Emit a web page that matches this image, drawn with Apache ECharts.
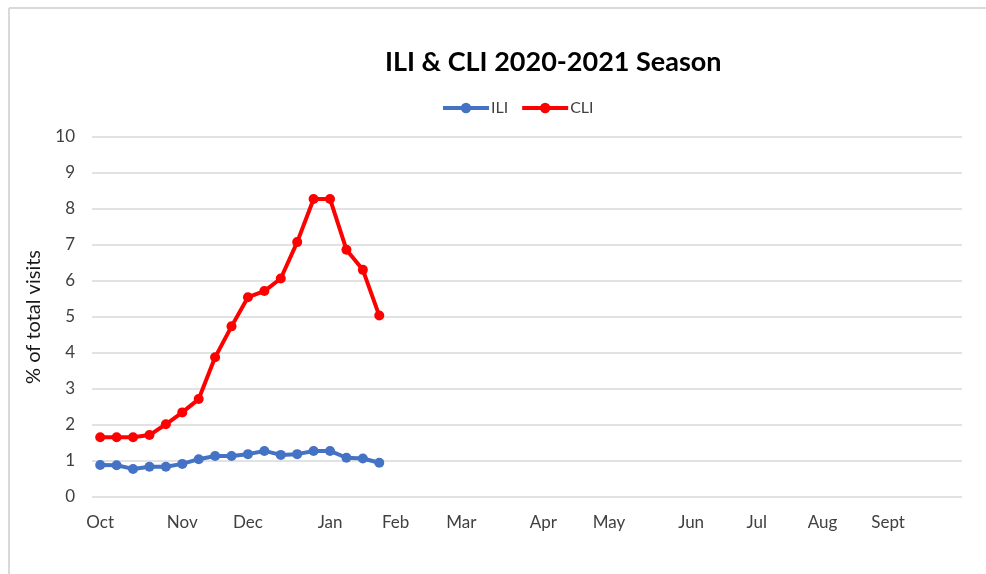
<!DOCTYPE html>
<html>
<head>
<meta charset="utf-8">
<script src="https://cdn.jsdelivr.net/npm/echarts@6/dist/echarts.min.js"></script>
<style>
html,body{margin:0;padding:0;background:#fff;}
#chart{width:986px;height:574px;}
</style>
</head>
<body>
<div id="chart"></div>
<script>
var monthLabels = ['Oct','Nov','Dec','Jan','Feb','Mar','Apr','May','Jun','Jul','Aug','Sept'];
var monthWeeks  = [0, 5, 9, 14, 18, 22, 27, 31, 36, 40, 44, 48];
var weekCount = 53;
var iliValues = [0.89, 0.88, 0.78, 0.84, 0.84, 0.92, 1.05, 1.14, 1.14, 1.19, 1.28, 1.17, 1.19, 1.28, 1.28, 1.09, 1.07, 0.95];
var cliValues = [1.66, 1.66, 1.66, 1.72, 2.02, 2.35, 2.72, 3.88, 4.74, 5.55, 5.72, 6.07, 7.08, 8.28, 8.28, 6.87, 6.31, 5.04];
var yTicks = [0,1,2,3,4,5,6,7,8,9,10];

var categories = [];
for (var i = 0; i < weekCount; i++) {
  var idx = monthWeeks.indexOf(i);
  categories.push(idx >= 0 ? monthLabels[idx] : '');
}

var chart = echarts.init(document.getElementById('chart'));
var font = 'Lato, "Open Sans", sans-serif';
chart.setOption({
  animation: false,
  textStyle: { fontFamily: font },
  title: {
    text: 'ILI & CLI 2020-2021 Season',
    left: 380, top: 44,
    textStyle: { fontFamily: font, fontWeight: 'bold', fontSize: 27, color: '#000' }
  },
  legend: {
    top: 95, left: 436,
    itemWidth: 46, itemHeight: 13, itemGap: 12,
    lineStyle: { width: 4 },
    textStyle: { fontFamily: font, fontSize: 16, color: '#404040', padding: [0, 0, 0, -3] },
    data: ['ILI', 'CLI']
  },
  graphic: [
    { type: 'line', shape: { x1: 9, y1: 8, x2: 986, y2: 8 }, style: { stroke: '#d9d9d9', lineWidth: 2 } },
    { type: 'line', shape: { x1: 9, y1: 8, x2: 9, y2: 574 }, style: { stroke: '#d9d9d9', lineWidth: 2 } }
  ],
  grid: { left: 92, right: 24, top: 137, bottom: 77 },
  xAxis: {
    type: 'category',
    data: categories,
    boundaryGap: true,
    axisLine: { show: false },
    axisTick: { show: false },
    axisLabel: {
      interval: 0, margin: 17,
      fontFamily: font, fontSize: 17, color: '#404040'
    },
    splitLine: { show: false }
  },
  yAxis: {
    type: 'value',
    min: yTicks[0], max: yTicks[yTicks.length - 1], interval: 1,
    name: '% of total visits',
    nameLocation: 'middle', nameGap: 48, nameRotate: 90,
    nameTextStyle: { fontFamily: font, fontSize: 20, color: '#1a1a1a' },
    axisLine: { show: false },
    axisTick: { show: false },
    axisLabel: { margin: 17, fontFamily: font, fontSize: 17, color: '#404040' },
    splitLine: { lineStyle: { color: '#d9d9d9', width: 1.5 } }
  },
  series: [
    {
      name: 'ILI', type: 'line', data: iliValues,
      symbol: 'circle', symbolSize: 10,
      lineStyle: { color: '#4472C4', width: 4 },
      itemStyle: { color: '#4472C4' }
    },
    {
      name: 'CLI', type: 'line', data: cliValues,
      symbol: 'circle', symbolSize: 10,
      lineStyle: { color: '#FF0000', width: 4 },
      itemStyle: { color: '#FF0000' }
    }
  ]
});
</script>
</body>
</html>
